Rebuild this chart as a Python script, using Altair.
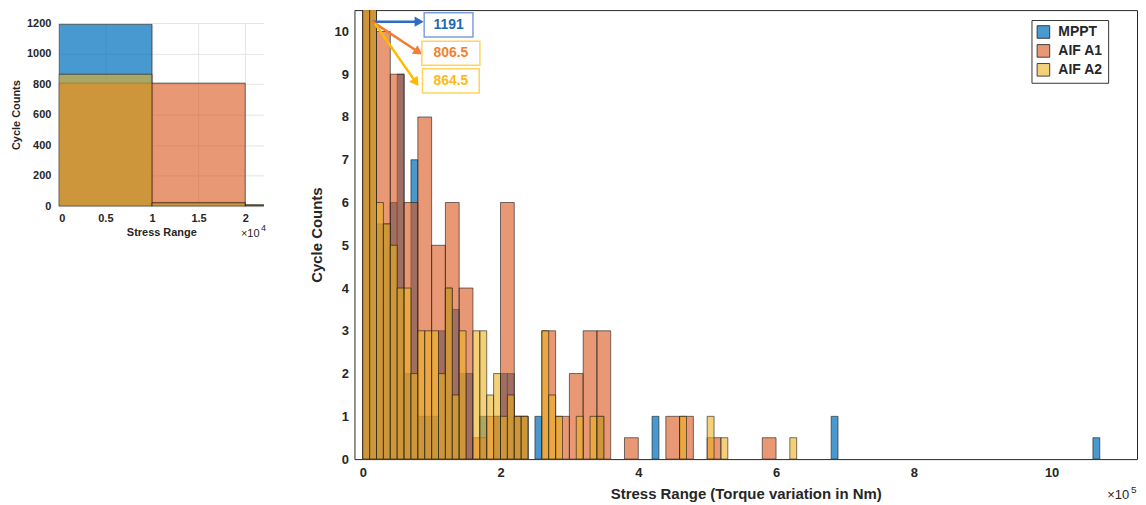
import math
import altair as alt
import pandas as pd

# ---------------- data ----------------
SERIES = ["MPPT", "AIF A1", "AIF A2"]
COLORS = ["#0072BD", "#D95319", "#EDB120"]
OPACITY = [0.72, 0.6, 0.6]
UNIT = 10000                      # stress-range unit of the bin index
BIN_SPAN = [1, 2, 1]              # bin width in units (AIF A1 uses wider bins)

# bin index (x 1e4) and cycle counts for the non-empty bins
MPPT_BIN = [0, 1, 2, 3, 4, 5, 6, 7, 8, 9, 10, 11, 12, 13, 14, 15, 17, 19, 20, 21, 22, 23, 25, 34, 42, 68, 106]
MPPT_COUNT = [1191, 25, 5.5, 5.5, 6, 9, 2, 7, 1, 1, 1, 3, 4, 3.5, 2, 2, 1, 1, 2, 2, 1, 1, 1, 1, 1, 1, 0.5]

A1_BIN = [0, 2, 4, 6, 8, 10, 12, 14, 16, 18, 20, 22, 26, 28, 30, 32, 34, 38, 44, 46, 50, 58]
A1_COUNT = [806.5, 10, 9, 6, 8, 5, 6, 4, 0.5, 1, 6, 1, 3, 1, 2, 3, 3, 0.5, 1, 1, 0.5, 0.5]

A2_BIN = [0, 1, 2, 3, 4, 5, 6, 7, 8, 9, 10, 11, 12, 13, 14, 16, 17, 18, 19, 20, 21, 22, 23,
          26, 27, 28, 31, 33, 34, 46, 50, 52, 62]
A2_COUNT = [864.5, 22, 6, 5.5, 5, 4, 4, 2, 3, 3, 3, 2, 4, 1.5, 3, 3, 3, 1.5, 2, 1, 1.5, 1, 1,
            3, 1.5, 1, 1, 1, 1, 1, 1, 0.5, 0.5]

MAIN_X_TICKS = [0, 200000, 400000, 600000, 800000, 1000000]
MAIN_Y_TICKS = [0, 1, 2, 3, 4, 5, 6, 7, 8, 9, 10]
INSET_X_TICKS = [0, 5000, 10000, 15000, 20000]
INSET_Y_TICKS = [0, 200, 400, 600, 800, 1000, 1200]

# annotation call-outs (data units of the main panel)
ANN_LABEL = ["1191", "806.5", "864.5"]
ANN_TEXT_COLOR = ["#1F66B3", "#F4802F", "#FDB913"]
ANN_BOX_COLOR = ["#7F9FDA", "#FFD35C", "#FFD35C"]
ANN_ARROW_COLOR = ["#2E6CC2", "#F47C35", "#FFBB00"]
ARROW_X0 = [14000, 14000, 17900]
ARROW_Y0 = [10.23, 10.23, 10.18]
ARROW_X1 = [81900, 80900, 77200]
ARROW_Y1 = [10.23, 9.52, 8.81]
BOX_X0 = [89200, 85800, 86700]
BOX_X1 = [160000, 170100, 169100]
BOX_Y0 = [9.87, 9.21, 8.56]
BOX_Y1 = [10.44, 9.77, 9.13]

# ---------------- build ----------------
FONT = "Liberation Sans"
TXT = "#262626"

MAIN_W, MAIN_H = 786, 451
MAIN_XDOM = [-12000, 1124000]
MAIN_YDOM = [0, 10.5]
INSET_W, INSET_H = 206, 184


def rgba(hex_color, alpha):
    h = hex_color.lstrip("#")
    r, g, b = int(h[0:2], 16), int(h[2:4], 16), int(h[4:6], 16)
    return f"rgba({r},{g},{b},{alpha})"


FILL = [rgba(c, a) for c, a in zip(COLORS, OPACITY)]


def frame(i, bins, counts):
    span = BIN_SPAN[i] * UNIT
    return pd.DataFrame({
        "series": SERIES[i],
        "start": [b * UNIT for b in bins],
        "end": [b * UNIT + span for b in bins],
        "count": counts,
    })


frames = [frame(0, MPPT_BIN, MPPT_COUNT), frame(1, A1_BIN, A1_COUNT), frame(2, A2_BIN, A2_COUNT)]
color_scale = alt.Scale(domain=SERIES, range=FILL)


def bars(xscale, yscale, xaxis, yaxis, legend):
    out = []
    for df in frames:
        out.append(
            alt.Chart(df).mark_rect(
                stroke="#1a1a1a", strokeWidth=0.8, strokeOpacity=0.75, clip=True
            ).encode(
                x=alt.X("start:Q", scale=xscale, axis=xaxis),
                x2="end:Q",
                y=alt.Y("count:Q", scale=yscale, axis=yaxis),
                y2=alt.datum(0),
                color=alt.Color("series:N", scale=color_scale, legend=legend),
            )
        )
    return out


# ---- main panel ----
main_xaxis = alt.Axis(
    values=MAIN_X_TICKS, labelExpr="datum.value/100000", title="Stress Range (Torque variation in Nm)",
    grid=False, ticks=False, domain=False, labelFontSize=13, labelFontWeight="bold", labelColor=TXT,
    labelPadding=7, titleFontSize=15, titleFontWeight="bold", titleColor=TXT, titlePadding=8,
)
main_yaxis = alt.Axis(
    values=MAIN_Y_TICKS, title="Cycle Counts", grid=False, ticks=False, domain=False,
    labelFontSize=13, labelFontWeight="bold", labelColor=TXT, labelPadding=6,
    titleFontSize=15, titleFontWeight="bold", titleColor=TXT, titlePadding=10,
)
main_legend = alt.Legend(
    title=None, orient="none", legendX=680, legendY=10, direction="vertical",
    symbolType="square", symbolSize=160, symbolStrokeColor="#1a1a1a",
    symbolStrokeWidth=0.8, labelFontSize=14, labelFontWeight="bold", labelColor=TXT,
    strokeColor="#333333", fillColor="white", padding=5, rowPadding=3, labelOffset=8,
)
main_bars = bars(
    alt.Scale(domain=MAIN_XDOM, nice=False, zero=False),
    alt.Scale(domain=MAIN_YDOM, nice=False),
    main_xaxis, main_yaxis, main_legend,
)

ann = pd.DataFrame({
    "label": ANN_LABEL, "tc": ANN_TEXT_COLOR, "bc": ANN_BOX_COLOR, "ac": ANN_ARROW_COLOR,
    "x0": ARROW_X0, "y0": ARROW_Y0, "x1": ARROW_X1, "y1": ARROW_Y1,
    "bx0": BOX_X0, "bx1": BOX_X1, "by0": BOX_Y0, "by1": BOX_Y1,
})
px_per_x = MAIN_W / (MAIN_XDOM[1] - MAIN_XDOM[0])
px_per_y = MAIN_H / (MAIN_YDOM[1] - MAIN_YDOM[0])
ann["ang"] = [
    math.degrees(math.atan2((a - b) * px_per_y, (d - c) * px_per_x))
    for a, b, c, d in zip(ann["y0"], ann["y1"], ann["x0"], ann["x1"])
]
ann["tx"] = (ann["bx0"] + ann["bx1"]) / 2
ann["ty"] = (ann["by0"] + ann["by1"]) / 2

sx = alt.Scale(domain=MAIN_XDOM, nice=False, zero=False)
sy = alt.Scale(domain=MAIN_YDOM, nice=False)
ann_base = alt.Chart(ann)
arrows = ann_base.mark_rule(strokeWidth=2.5).encode(
    x=alt.X("x0:Q", scale=sx), y=alt.Y("y0:Q", scale=sy), x2="x1:Q", y2="y1:Q",
    color=alt.Color("ac:N", scale=None),
)
heads = ann_base.mark_point(shape="triangle-right", filled=True, size=110, opacity=1).encode(
    x=alt.X("x1:Q", scale=sx), y=alt.Y("y1:Q", scale=sy),
    angle=alt.Angle("ang:Q", scale=None),
    color=alt.Color("ac:N", scale=None),
)
boxes = ann_base.mark_rect(fill="white", strokeWidth=1.5).encode(
    x=alt.X("bx0:Q", scale=sx), x2="bx1:Q", y=alt.Y("by0:Q", scale=sy), y2="by1:Q",
    stroke=alt.Stroke("bc:N", scale=None),
)
labels = ann_base.mark_text(font=FONT, fontSize=14, fontWeight="bold").encode(
    x=alt.X("tx:Q", scale=sx), y=alt.Y("ty:Q", scale=sy), text="label:N",
    color=alt.Color("tc:N", scale=None),
)

main_exp = pd.DataFrame({"t": ["×10"], "e": ["5"]})
main_exp_base = alt.Chart(main_exp).mark_text(
    font=FONT, fontSize=13, color=TXT, align="left", baseline="alphabetic"
).encode(x=alt.value(756), y=alt.value(491), text="t:N")
main_exp_sup = alt.Chart(main_exp).mark_text(
    font=FONT, fontSize=10, color=TXT, align="left", baseline="alphabetic"
).encode(x=alt.value(780), y=alt.value(485), text="e:N")

main = alt.layer(*main_bars, arrows, heads, boxes, labels, main_exp_base, main_exp_sup).properties(
    width=MAIN_W, height=MAIN_H, view=alt.ViewBackground(stroke="#262626", strokeWidth=1)
)

# ---- inset panel ----
inset_xaxis = alt.Axis(
    values=INSET_X_TICKS, labelExpr="datum.value/10000", title="Stress Range",
    grid=True, gridColor="#e4e4e4", ticks=False, domain=False, labelFontSize=11, labelFontWeight="bold",
    labelColor=TXT, labelPadding=6, titleFontSize=11, titleFontWeight="bold", titleColor=TXT,
    titlePadding=3,
)
inset_yaxis = alt.Axis(
    values=INSET_Y_TICKS, format="d", title="Cycle Counts", grid=True, gridColor="#e4e4e4", ticks=False,
    domain=False, labelFontSize=11, labelFontWeight="bold", labelColor=TXT, labelPadding=8,
    titleFontSize=11, titleFontWeight="bold", titleColor=TXT, titlePadding=5,
)
inset_bars = bars(
    alt.Scale(domain=[0, 22000], nice=False, zero=False),
    alt.Scale(domain=[0, 1200], nice=False),
    inset_xaxis, inset_yaxis, None,
)
inset_exp = pd.DataFrame({"t": ["×10"], "e": ["4"]})
inset_exp_base = alt.Chart(inset_exp).mark_text(
    font=FONT, fontSize=11, color=TXT, align="left", baseline="alphabetic"
).encode(x=alt.value(183), y=alt.value(215), text="t:N")
inset_exp_sup = alt.Chart(inset_exp).mark_text(
    font=FONT, fontSize=9, color=TXT, align="left", baseline="alphabetic"
).encode(x=alt.value(203), y=alt.value(209), text="e:N")

inset = alt.layer(*inset_bars, inset_exp_base, inset_exp_sup).properties(
    width=INSET_W, height=INSET_H,
)

spacer = alt.Chart(pd.DataFrame({"a": [0]})).mark_point(opacity=0, size=0).encode(
    x=alt.X("a:Q", axis=None), y=alt.Y("a:Q", axis=None)
).properties(width=INSET_W, height=1)

left = alt.vconcat(spacer, inset, spacing=4)

chart = alt.hconcat(left, main, spacing=42).resolve_scale(color="independent").properties(
    padding={"left": 2, "top": 0, "right": 0, "bottom": 0}
).configure(font=FONT).configure_view(stroke="transparent")

chart.save("out.html", embed_options={"renderer": "svg", "actions": False})
